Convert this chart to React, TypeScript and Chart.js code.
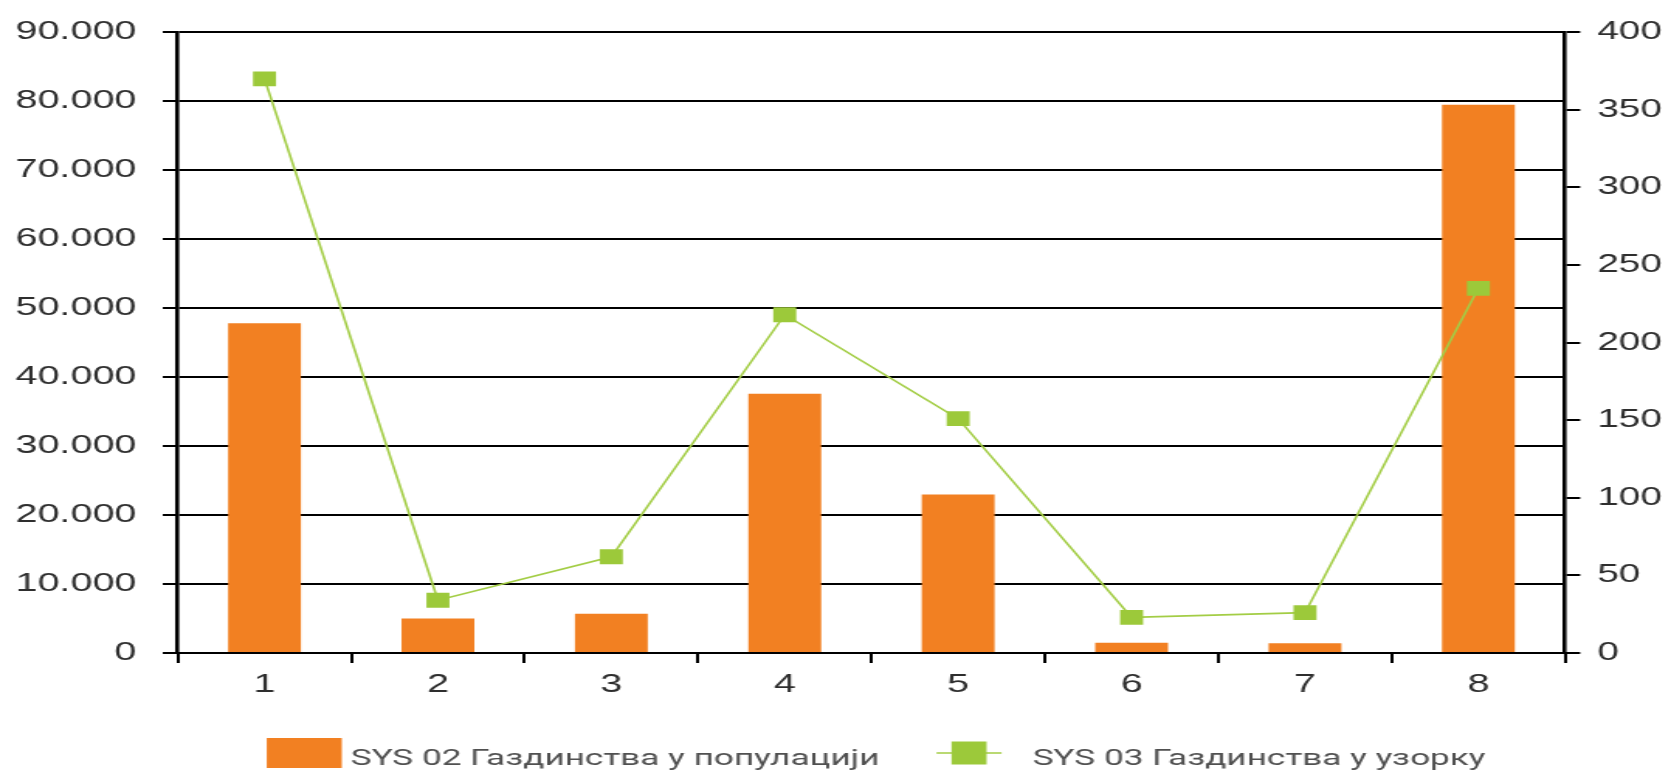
import React, { useEffect, useRef } from "react";
import { Chart, registerables } from "chart.js";

Chart.register(...registerables);

const categories = ["1", "2", "3", "4", "5", "6", "7", "8"];
const populationLabel = "SYS 02 Газдинства у популацији";
const sampleLabel = "SYS 03 Газдинства у узорку";
const populationValues = [47800, 5000, 5700, 37600, 23000, 1500, 1400, 79500];
const sampleValues = [370, 34, 62, 218, 151, 23, 26, 235];
const leftAxisMax = 90000;
const leftAxisStep = 10000;
const rightAxisMax = 400;
const rightAxisStep = 50;

const PAGE_W = 1671;
const PAGE_H = 770;
const STRETCH = 1.55;
const INTERNAL_W = Math.round(PAGE_W / STRETCH);

const ORANGE = "#F28022";
const GREEN_LINE = "#A3CD45";
const GREEN_MARK = "#9CC93A";
const TEXT = "#2e2e2e";
const TICK_FONT = { family: "'Liberation Sans', Arial, sans-serif", size: 25.5 };
const LEGEND_FONT_SIZE = 22.7;

const formatThousands = (v: number) => (v === 0 ? "0" : `${v / 1000}.000`);

const customLegend = {
  id: "customLegend",
  afterDraw(chart: any) {
    const { ctx, chartArea } = chart;
    const ds = chart.data.datasets;
    const barDs = ds.find((d: any) => d.type === "bar");
    const lineDs = ds.find((d: any) => d.type === "line");
    ctx.save();
    ctx.font = `${LEGEND_FONT_SIZE}px Roboto, 'Noto Sans', sans-serif`;
    const t1 = ctx.measureText(barDs.label).width;
    const t2 = ctx.measureText(lineDs.label).width;
    const boxW = 48.4;
    const boxH = 30;
    const gap1 = 5.7;
    const gapItems = 36.8;
    const lineW = 42;
    const gap2 = 20;
    const total = boxW + gap1 + t1 + gapItems + lineW + gap2 + t2;
    let x = (chartArea.left + chartArea.right) / 2 + 3 - total / 2;
    const y = 753;
    const textY = 759;
    ctx.fillStyle = barDs.backgroundColor;
    ctx.fillRect(x, y - boxH / 2, boxW, boxH);
    x += boxW + gap1;
    ctx.fillStyle = "#505050";
    ctx.textBaseline = "middle";
    ctx.textAlign = "left";
    ctx.fillText(barDs.label, x, textY);
    x += t1 + gapItems;
    ctx.strokeStyle = lineDs.borderColor;
    ctx.lineWidth = 1.5;
    ctx.beginPath();
    ctx.moveTo(x, y);
    ctx.lineTo(x + lineW, y);
    ctx.stroke();
    ctx.fillStyle = lineDs.pointBackgroundColor;
    ctx.fillRect(x + lineW / 2 - 11.3, y - 11.5, 22.6, 23);
    x += lineW + gap2;
    ctx.fillStyle = "#505050";
    ctx.fillText(lineDs.label, x, textY);
    ctx.restore();
  },
};

export default function App() {
  const canvasRef = useRef<HTMLCanvasElement | null>(null);

  useEffect(() => {
    const canvas = canvasRef.current;
    if (!canvas) return;
    const chart = new Chart(canvas, {
      type: "bar",
      data: {
        labels: categories,
        datasets: [
          {
            type: "line",
            label: sampleLabel,
            data: sampleValues,
            yAxisID: "y1",
            borderColor: GREEN_LINE,
            borderWidth: 1.6,
            backgroundColor: GREEN_MARK,
            pointStyle: "rect",
            pointRadius: 10.5,
            pointBorderWidth: 0,
            pointBackgroundColor: GREEN_MARK,
            tension: 0,
            order: 0,
          } as any,
          {
            type: "bar",
            label: populationLabel,
            data: populationValues,
            yAxisID: "y",
            backgroundColor: ORANGE,
            borderWidth: 0,
            barPercentage: 0.42,
            categoryPercentage: 1,
            order: 1,
          },
        ],
      },
      options: {
        responsive: false,
        animation: false,
        devicePixelRatio: 1,
        layout: { padding: { left: 10, right: 6, top: 15, bottom: 70 } },
        plugins: {
          legend: { display: false },
          tooltip: { enabled: false },
        },
        scales: {
          x: {
            type: "category",
            offset: true,
            grid: {
              offset: true,
              drawOnChartArea: false,
              drawTicks: true,
              tickLength: 10,
              color: "#000",
              lineWidth: 2,
            },
            border: { display: true, color: "#000", width: 2 },
            ticks: { color: TEXT, font: TICK_FONT, padding: 7 },
            afterFit: (scale: any) => {
              scale.height = 47;
            },
          },
          y: {
            position: "left",
            min: 0,
            max: leftAxisMax,
            ticks: {
              stepSize: leftAxisStep,
              color: TEXT,
              font: TICK_FONT,
              padding: 17,
              callback: (v: any) => formatThousands(Number(v)),
            },
            grid: { color: "#000", lineWidth: 2, tickLength: 9.7 },
            border: { display: true, color: "#000", width: 2.6 },
            afterFit: (scale: any) => {
              scale.width = 104.7;
            },
          },
          y1: {
            position: "right",
            min: 0,
            max: rightAxisMax,
            ticks: {
              stepSize: rightAxisStep,
              color: TEXT,
              font: { ...TICK_FONT, size: 25 },
              padding: 11,
            },
            grid: { drawOnChartArea: false, color: "#000", lineWidth: 2, tickLength: 9.7 },
            border: { display: true, color: "#000", width: 2.6 },
            afterFit: (scale: any) => {
              scale.width = 62.3;
            },
          },
        },
      },
      plugins: [customLegend],
    });
    return () => chart.destroy();
  }, []);

  return (
    <div
      style={{
        position: "fixed",
        left: 0,
        top: 0,
        width: PAGE_W,
        height: PAGE_H,
        background: "#fff",
      }}
    >
      <canvas
        ref={canvasRef}
        width={INTERNAL_W}
        height={PAGE_H}
        style={{ width: `${PAGE_W}px`, height: `${PAGE_H}px`, display: "block" }}
      />
    </div>
  );
}
